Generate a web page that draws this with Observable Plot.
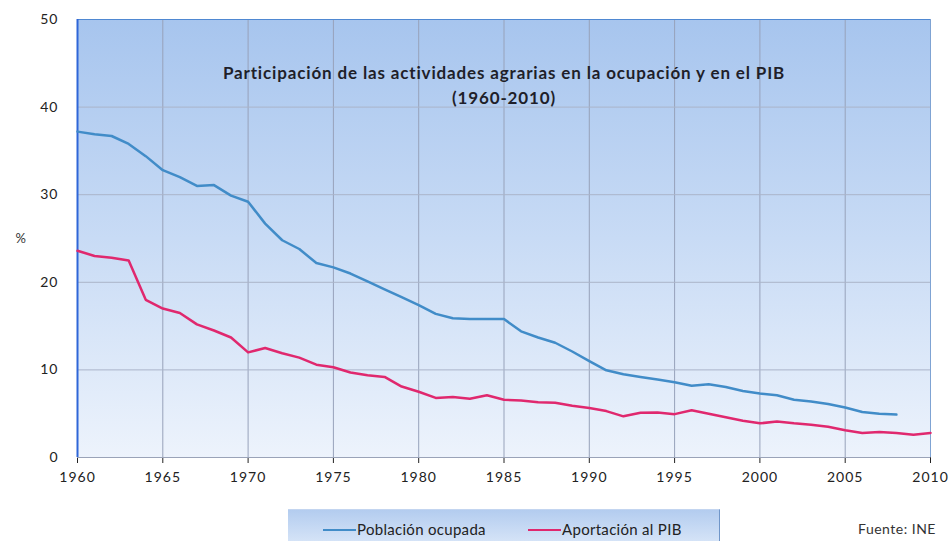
<!DOCTYPE html>
<html><head><meta charset="utf-8">
<script src="https://cdn.jsdelivr.net/npm/d3@7"></script>
<script src="https://cdn.jsdelivr.net/npm/@observablehq/plot@0.6"></script>
<style>
body{margin:0;background:#fff;font-family:Lato,"Open Sans",sans-serif;}
#wrap{position:relative;width:951px;height:541px;overflow:hidden;background:#fff}
#chart svg{display:block}
#legend{position:absolute;left:288px;top:509px;width:432px;height:40px;background:linear-gradient(#b3ccef,#dde9f9);border-top:1px solid #c3d5f0;border-right:1.5px solid #7096c9;box-sizing:border-box}
.item{position:absolute;top:10px;font-size:15px;color:#222;letter-spacing:0.3px;white-space:nowrap;line-height:18px}
.sw{display:inline-block;width:33px;height:2px;vertical-align:middle;margin-right:1px;position:relative;top:-1px}
#fuente{position:absolute;left:858px;top:520px;font-size:14px;color:#333;letter-spacing:0.5px}
</style></head>
<body>
<div id="wrap">
  <div id="chart"></div>
  <div id="legend">
    <div class="item" style="left:35px"><span class="sw" style="background:#418cc8"></span>Población ocupada</div>
    <div class="item" style="left:240px"><span class="sw" style="background:#e0286e"></span>Aportación al PIB</div>
  </div>
  <div id="fuente">Fuente: INE</div>
</div>
<script>
const years = d3.range(1960, 2011);
const poblacionOcupada = [37.2,36.9,36.7,35.8,34.4,32.8,32.0,31.0,31.1,29.9,
  29.2,26.7,24.8,23.8,22.2,21.7,21.0,20.1,19.2,18.3,
  17.4,16.4,15.9,15.8,15.8,15.8,14.4,13.7,13.1,12.1,
  11.0,9.95,9.5,9.2,8.9,8.6,8.2,8.35,8.05,7.6,
  7.3,7.1,6.6,6.4,6.1,5.7,5.2,5.0,4.9];
const aportacionPIB = [23.6,23.0,22.8,22.5,18.0,17.0,16.5,15.2,14.5,13.7,
  12.0,12.5,11.9,11.4,10.6,10.3,9.7,9.4,9.2,8.1,
  7.5,6.8,6.9,6.7,7.1,6.6,6.5,6.3,6.25,5.9,
  5.65,5.3,4.7,5.1,5.15,4.95,5.4,5.0,4.6,4.2,
  3.9,4.1,3.9,3.75,3.5,3.1,2.8,2.9,2.8,2.6,2.8];
const xTicks = [1960,1965,1970,1975,1980,1985,1990,1995,2000,2005,2010];
const yTicks = [0,10,20,30,40,50];
const titleLines = ["Participación de las actividades agrarias en la ocupación y en el PIB", "(1960-2010)"];

const blue = poblacionOcupada.map((v, i) => ({year: years[i], value: v}));
const pink = aportacionPIB.map((v, i) => ({year: years[i], value: v}));

const plot = Plot.plot({
  width: 951, height: 500,
  marginLeft: 77, marginRight: 21, marginTop: 19, marginBottom: 43,
  style: {fontFamily: "Lato, sans-serif", fontSize: "14px", color: "#222", background: "transparent"},
  x: {domain: [1960, 2010], ticks: xTicks, tickFormat: d => String(d), tickSize: 6, tickPadding: 9, label: null},
  y: {domain: [0, 50], ticks: yTicks, tickSize: 0, tickPadding: 19, label: null},
  marks: [
    Plot.frame({fill: "url(#bgGrad)", stroke: null}),
    Plot.ruleX(xTicks.slice(1, -1), {y1: 0, y2: 50, stroke: "#97a2ba", strokeWidth: 1}),
    Plot.ruleY(yTicks.slice(1, -1), {stroke: "#aab4c9", strokeWidth: 1}),
    Plot.ruleY([0], {stroke: "#9aa3b8", strokeWidth: 1}),
    Plot.ruleY([50], {stroke: "#4f88d2", strokeWidth: 1.2}),
    Plot.ruleX([2010], {y1: 0, y2: 50, stroke: "#7fa3d3", strokeWidth: 1}),
    Plot.ruleX([1960], {y1: 0, y2: 50, stroke: "#2f66d8", strokeWidth: 2}),
    Plot.line(blue, {x: "year", y: "value", stroke: "#418cc8", strokeWidth: 2.5}),
    Plot.line(pink, {x: "year", y: "value", stroke: "#e0286e", strokeWidth: 2.5}),
    Plot.text([titleLines[0]], {frameAnchor: "top", dy: 47, fontWeight: "bold", fontSize: 17, fill: "#1f1f2a", className: "ttl"}),
    Plot.text([titleLines[1]], {frameAnchor: "top", dy: 72, fontWeight: "bold", fontSize: 17, fill: "#1f1f2a", className: "ttl"}),
    Plot.text(["%"], {frameAnchor: "left", dx: -62, fontSize: 13, fill: "#333"})
  ]
});
const svg = d3.select(plot);
svg.style("letter-spacing", "1px");
svg.selectAll(".ttl").style("letter-spacing", "0.85px");
const defs = svg.insert("defs", ":first-child");
const lg = defs.append("linearGradient").attr("id", "bgGrad").attr("x1", 0).attr("y1", 0).attr("x2", 0).attr("y2", 1);
lg.append("stop").attr("offset", "0%").attr("stop-color", "#a7c5ee");
lg.append("stop").attr("offset", "50%").attr("stop-color", "#c8dbf5");
lg.append("stop").attr("offset", "100%").attr("stop-color", "#edf3fc");
document.getElementById("chart").appendChild(plot);
</script>
</body></html>
